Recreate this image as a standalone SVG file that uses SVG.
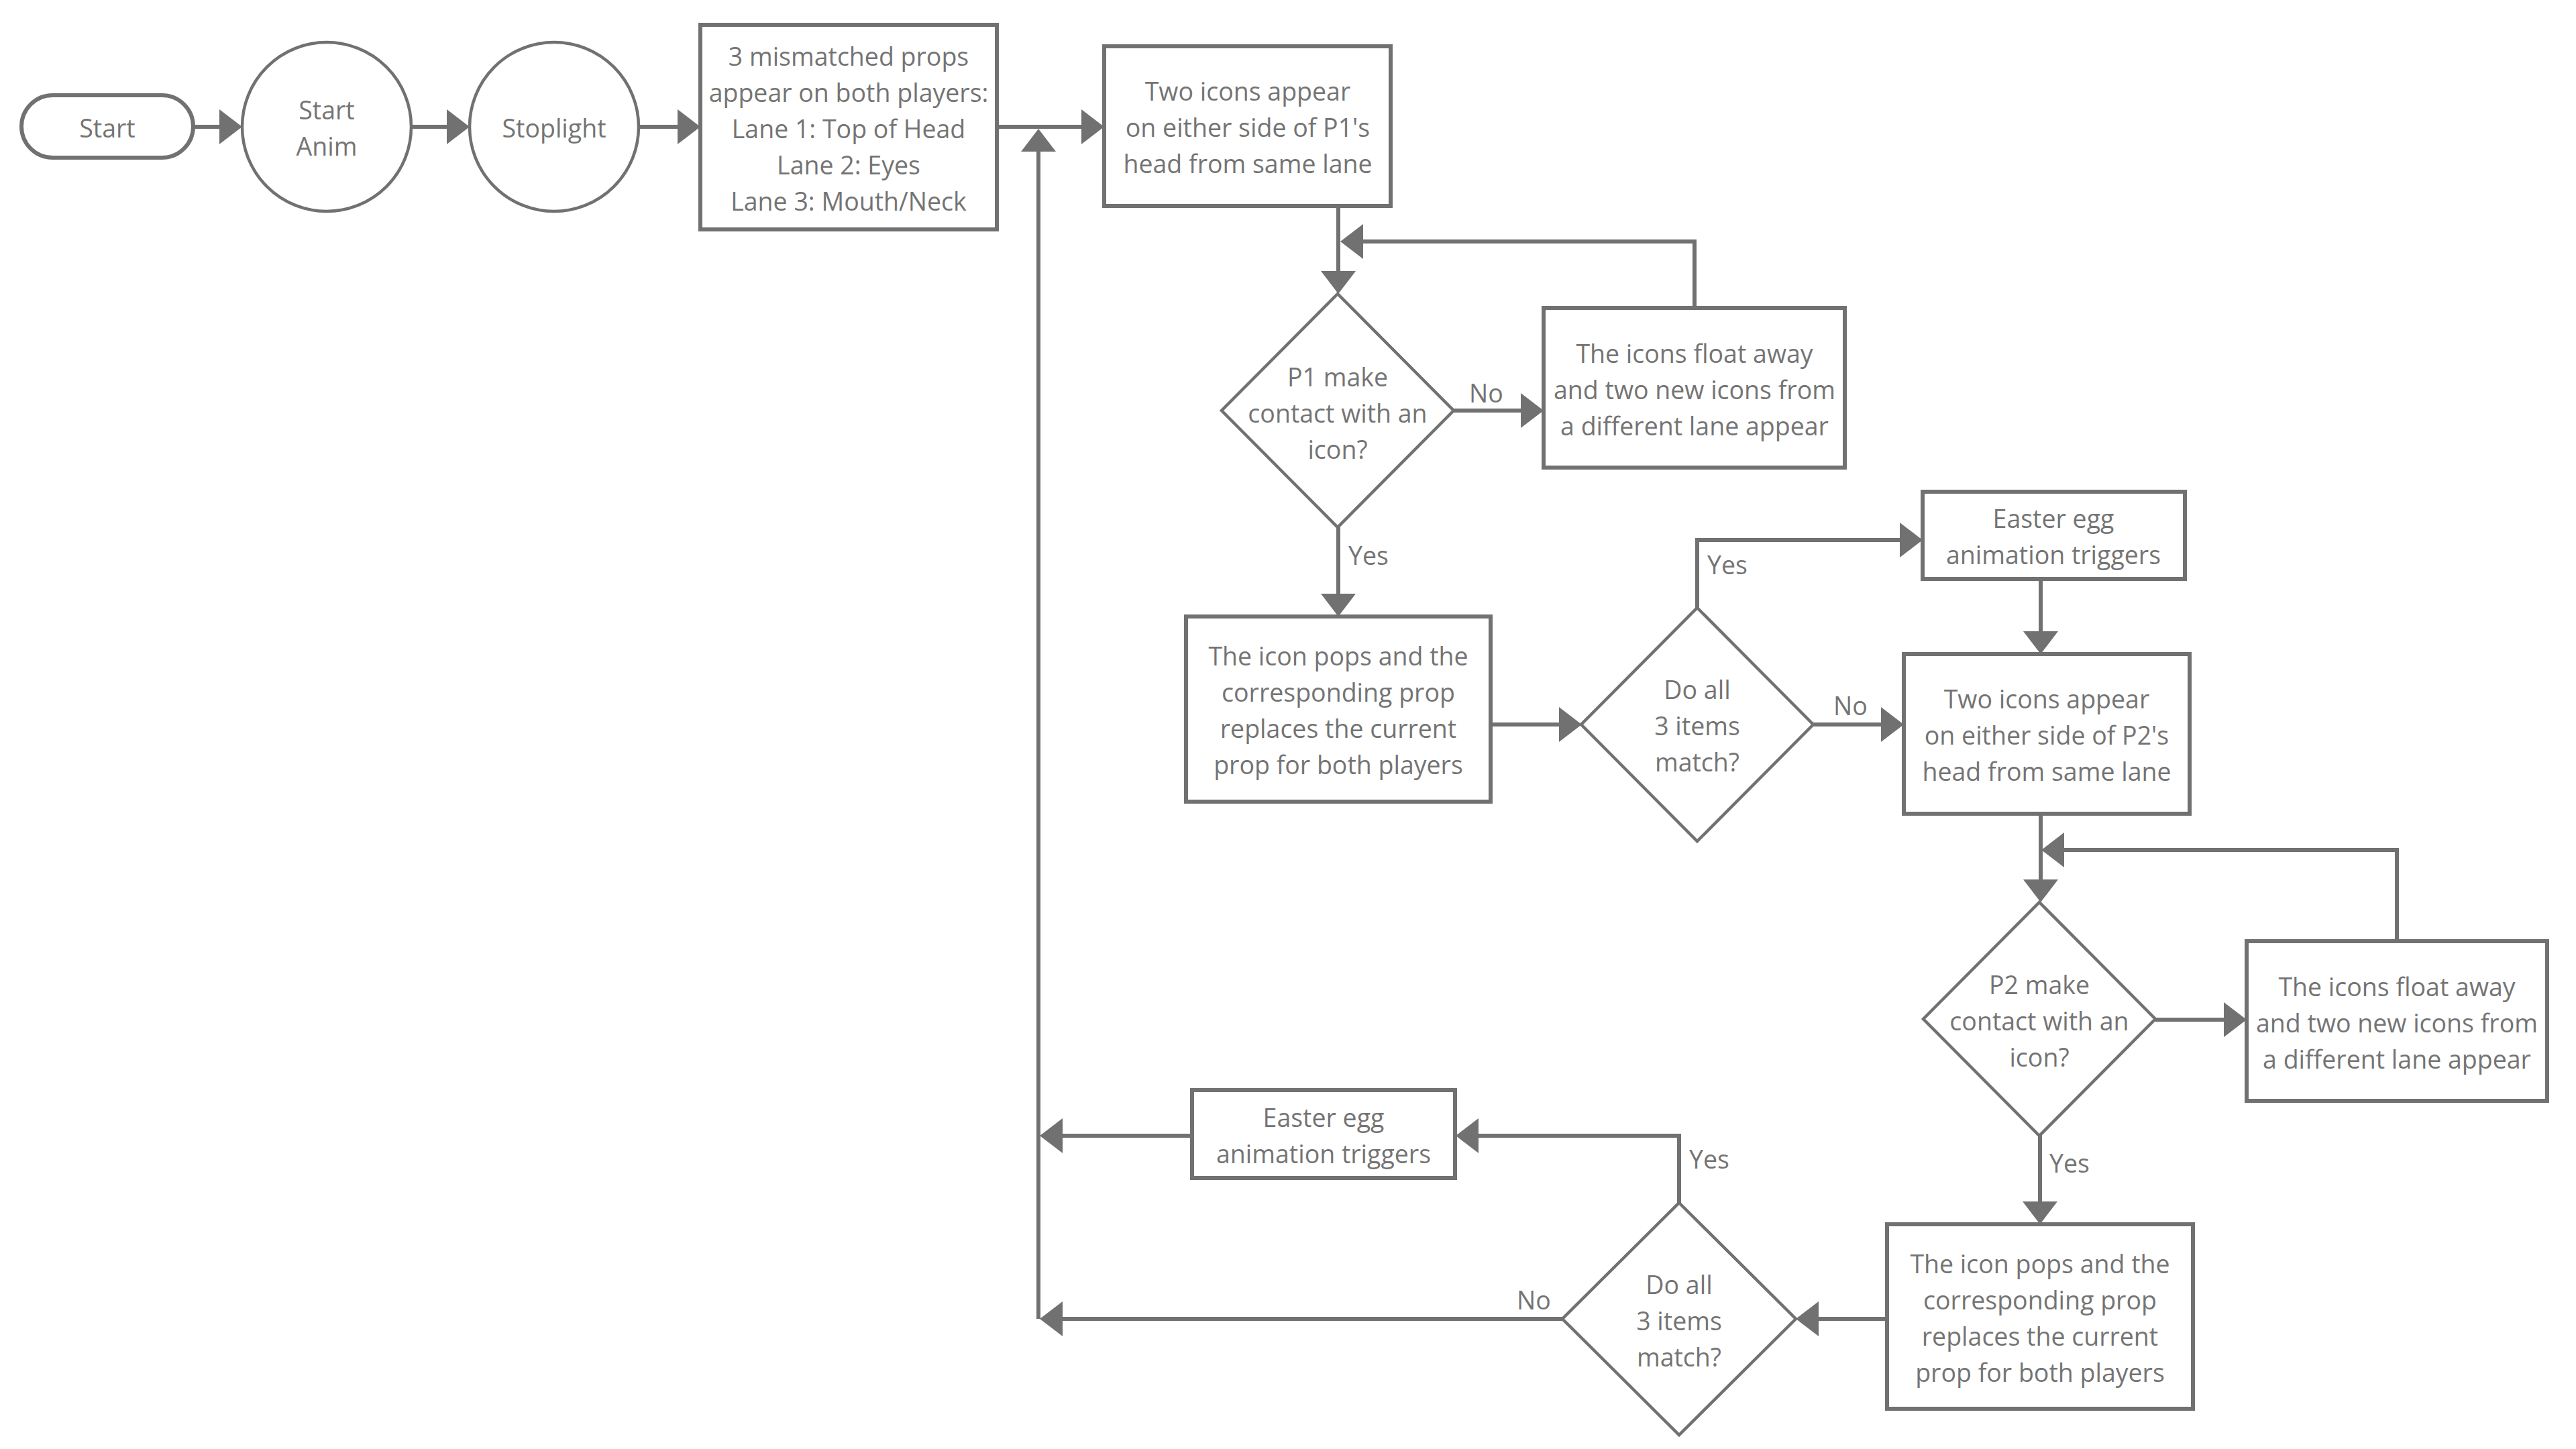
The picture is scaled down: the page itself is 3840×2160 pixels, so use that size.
<svg xmlns="http://www.w3.org/2000/svg" width="3840" height="2160" viewBox="0 0 3840 2160">
<defs>
<style>
.n{fill:#ffffff;stroke:#717171;stroke-width:6}
.thin{fill:#ffffff;stroke:#717171;stroke-width:4.5}
.t{font-family:"Open Sans","Noto Sans","Liberation Sans",sans-serif;font-size:37.5px;fill:#747474;text-anchor:middle}
.lbl{font-family:"Open Sans","Noto Sans","Liberation Sans",sans-serif;font-size:37.5px;fill:#747474}
.c{fill:none;stroke:#717171;stroke-width:6;stroke-linejoin:miter}
.a{marker-end:url(#ah)}
</style>
<marker id="ah" markerUnits="userSpaceOnUse" markerWidth="36" markerHeight="54" viewBox="0 0 36 54" refX="14" refY="27" orient="auto">
<path d="M0,1 L34,27 L0,53 Z" fill="#717171"/>
</marker>
</defs>
<rect width="3840" height="2160" fill="#ffffff"/>

<g id="connectors">
<path class="c a" d="M288,189 H341"/>
<path class="c a" d="M613,189 H680"/>
<path class="c a" d="M952,189 H1024"/>
<path class="c a" d="M1486,189 H1626"/>
<path class="c a" d="M1995,307 V418"/>
<path class="c a" d="M2167,612 H2281"/>
<path class="c a" d="M2526,459 V360 H2018"/>
<path class="c a" d="M1995,786 V899"/>
<path class="c a" d="M2222,1080 H2338"/>
<path class="c a" d="M2530,906 V805 H2846"/>
<path class="c a" d="M2703,1080 H2818"/>
<path class="c a" d="M3042,863 V955"/>
<path class="c a" d="M3042,1213 V1325"/>
<path class="c a" d="M3573,1403 V1267 H3063"/>
<path class="c a" d="M3213,1520 H3329"/>
<path class="c a" d="M3041,1692 V1805"/>
<path class="c a" d="M2813,1966 H2697"/>
<path class="c a" d="M2503,1793 V1693 H2190"/>
<path class="c a" d="M1777,1693 H1570"/>
<path class="c a" d="M2329,1966 H1570"/>
<path class="c a" d="M1548,1966 V212"/>
<text class="lbl" x="2190" y="600">No</text>
<text class="lbl" x="2010" y="842">Yes</text>
<text class="lbl" x="2545" y="856">Yes</text>
<text class="lbl" x="2733" y="1066">No</text>
<text class="lbl" x="3055" y="1748">Yes</text>
<text class="lbl" x="2518" y="1742">Yes</text>
<text class="lbl" x="2261" y="1952">No</text>
</g>

<g id="start">
<rect class="n" x="32" y="142" width="256" height="93" rx="46.5"/>
<text class="t" x="160" y="205">Start</text>
</g>

<g id="start-anim">
<circle class="thin" cx="487" cy="189" r="126"/>
<text class="t"><tspan x="487" y="178">Start</tspan><tspan x="487" y="232">Anim</tspan></text>
</g>

<g id="stoplight">
<circle class="thin" cx="826" cy="189" r="126"/>
<text class="t" x="826" y="205">Stoplight</text>
</g>

<g id="props">
<rect class="n" x="1044" y="37" width="442" height="305"/>
<text class="t"><tspan x="1265" y="98">3 mismatched props</tspan><tspan x="1265" y="152">appear on both players:</tspan><tspan x="1265" y="206">Lane 1: Top of Head</tspan><tspan x="1265" y="260">Lane 2: Eyes</tspan><tspan x="1265" y="314">Lane 3: Mouth/Neck</tspan></text>
</g>

<g id="p1-icons">
<rect class="n" x="1646" y="69" width="427" height="238"/>
<text class="t"><tspan x="1860" y="150">Two icons appear</tspan><tspan x="1860" y="204">on either side of P1's</tspan><tspan x="1860" y="258">head from same lane</tspan></text>
</g>

<g id="p1-contact">
<polygon class="thin" points="1994,438 2167,612 1994,786 1821,612"/>
<text class="t"><tspan x="1994" y="576">P1 make</tspan><tspan x="1994" y="630">contact with an</tspan><tspan x="1994" y="684">icon?</tspan></text>
</g>

<g id="p1-float">
<rect class="n" x="2301" y="459" width="449" height="238"/>
<text class="t"><tspan x="2526" y="541">The icons float away</tspan><tspan x="2526" y="595">and two new icons from</tspan><tspan x="2526" y="649">a different lane appear</tspan></text>
</g>

<g id="p1-pop">
<rect class="n" x="1768" y="919" width="454" height="276"/>
<text class="t"><tspan x="1995" y="992">The icon pops and the</tspan><tspan x="1995" y="1046">corresponding prop</tspan><tspan x="1995" y="1100">replaces the current</tspan><tspan x="1995" y="1154">prop for both players</tspan></text>
</g>

<g id="match-1">
<polygon class="thin" points="2530,906 2703,1080 2530,1254 2357,1080"/>
<text class="t"><tspan x="2530" y="1042">Do all</tspan><tspan x="2530" y="1096">3 items</tspan><tspan x="2530" y="1150">match?</tspan></text>
</g>

<g id="easter-1">
<rect class="n" x="2866" y="733" width="391" height="130"/>
<text class="t"><tspan x="3061" y="787">Easter egg</tspan><tspan x="3061" y="841">animation triggers</tspan></text>
</g>

<g id="p2-icons">
<rect class="n" x="2838" y="975" width="426" height="238"/>
<text class="t"><tspan x="3051" y="1056">Two icons appear</tspan><tspan x="3051" y="1110">on either side of P2's</tspan><tspan x="3051" y="1164">head from same lane</tspan></text>
</g>

<g id="p2-contact">
<polygon class="thin" points="3040,1345 3213,1519 3040,1693 2867,1519"/>
<text class="t"><tspan x="3040" y="1482">P2 make</tspan><tspan x="3040" y="1536">contact with an</tspan><tspan x="3040" y="1590">icon?</tspan></text>
</g>

<g id="p2-float">
<rect class="n" x="3349" y="1403" width="448" height="238"/>
<text class="t"><tspan x="3573" y="1485">The icons float away</tspan><tspan x="3573" y="1539">and two new icons from</tspan><tspan x="3573" y="1593">a different lane appear</tspan></text>
</g>

<g id="p2-pop">
<rect class="n" x="2813" y="1825" width="456" height="275"/>
<text class="t"><tspan x="3041" y="1898">The icon pops and the</tspan><tspan x="3041" y="1952">corresponding prop</tspan><tspan x="3041" y="2006">replaces the current</tspan><tspan x="3041" y="2060">prop for both players</tspan></text>
</g>

<g id="match-2">
<polygon class="thin" points="2503,1793 2677,1966 2503,2139 2329,1966"/>
<text class="t"><tspan x="2503" y="1929">Do all</tspan><tspan x="2503" y="1983">3 items</tspan><tspan x="2503" y="2037">match?</tspan></text>
</g>

<g id="easter-2">
<rect class="n" x="1777" y="1625" width="392" height="131"/>
<text class="t"><tspan x="1973" y="1680">Easter egg</tspan><tspan x="1973" y="1734">animation triggers</tspan></text>
</g>
</svg>
